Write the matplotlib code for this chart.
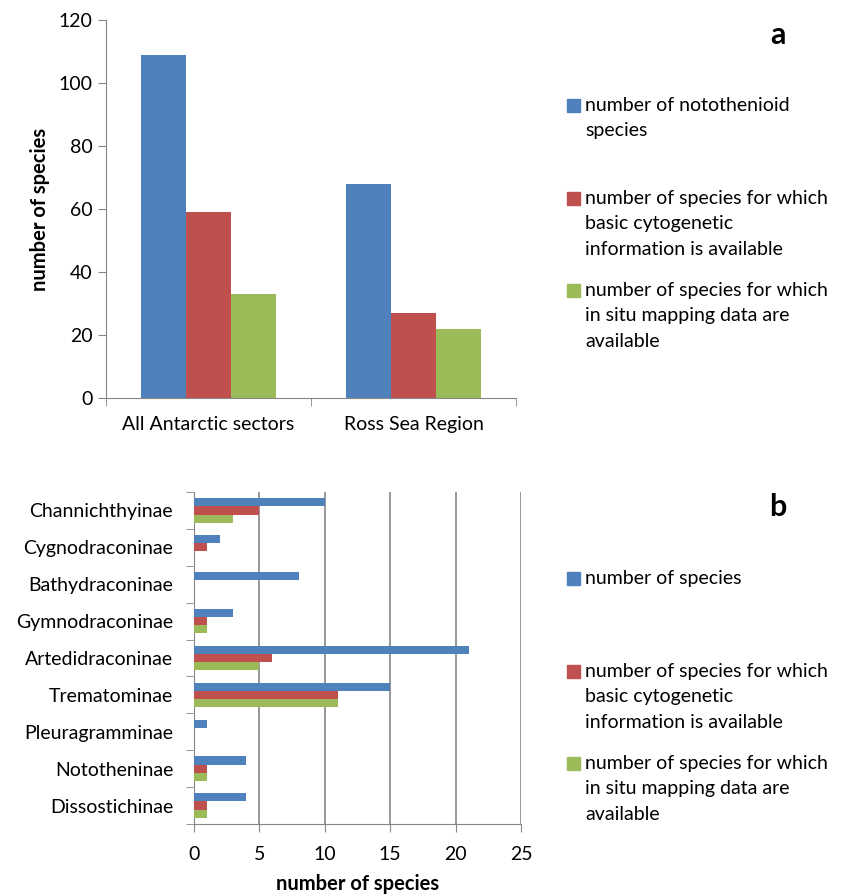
import matplotlib
matplotlib.use("Agg")
import numpy as np
import matplotlib.pyplot as plt
from matplotlib.patches import Rectangle

plt.rcParams['font.family'] = ['Lato', 'DejaVu Sans']

# panel a
regions = ["All Antarctic sectors", "Ross Sea Region"]
notothenioid = [109, 68]
cytogenetic_a = [59, 27]
insitu_a = [33, 22]

# panel b
subfamilies = ["Channichthyinae", "Cygnodraconinae", "Bathydraconinae", "Gymnodraconinae",
               "Artedidraconinae", "Trematominae", "Pleuragramminae", "Nototheninae",
               "Dissostichinae"]
species_b = [10, 2, 8, 3, 21, 15, 1, 4, 4]
cytogenetic_b = [5, 1, 0, 1, 6, 11, 0, 1, 1]
insitu_b = [3, 0, 0, 1, 5, 11, 0, 1, 1]

labels_a = ["number of notothenioid\nspecies",
            "number of species for which\nbasic cytogenetic\ninformation is available",
            "number of species for which\nin situ mapping data are\navailable"]
labels_b = ["number of species",
            "number of species for which\nbasic cytogenetic\ninformation is available",
            "number of species for which\nin situ mapping data are\navailable"]

colors = ["#4F81BD", "#C0504D", "#9BBB59"]
grey = "#868686"
fs = 14

fig = plt.figure(figsize=(8.49, 8.96), dpi=100)

# ---- panel a
ax1 = fig.add_axes([106/849, 1 - 398/896, 410/849, 378/896])
x = np.arange(len(regions))
w = 0.22
for i, vals in enumerate([notothenioid, cytogenetic_a, insitu_a]):
    ax1.bar(x + (i - 1) * w, vals, w, color=colors[i])
ax1.set_xlim(-0.5, 1.5)
ax1.set_ylim(0, 120)
ax1.set_yticks(range(0, 121, 20))
ax1.set_xticks(x)
ax1.set_xticklabels(regions, fontsize=fs)
ax1.set_xticks([-0.5, 0.5, 1.5], minor=True)
ax1.tick_params(axis='x', which='major', length=0, pad=13)
ax1.tick_params(axis='x', which='minor', length=6, color=grey, direction='out')
ax1.tick_params(axis='y', labelsize=fs, length=6, color=grey, direction='out')
ax1.set_ylabel("number of species", fontsize=14.5, fontweight='bold', labelpad=6)
for s in ['top', 'right']:
    ax1.spines[s].set_visible(False)
for s in ['left', 'bottom']:
    ax1.spines[s].set_color(grey)

# ---- panel b
ax2 = fig.add_axes([194/849, 1 - 824/896, 327/849, 332/896])
y = np.arange(len(subfamilies))
h = 0.22
for i, vals in enumerate([species_b, cytogenetic_b, insitu_b]):
    ax2.barh(y + (i - 1) * h, vals, h, color=colors[i], zorder=3)
ax2.set_ylim(len(subfamilies) - 0.5, -0.5)
ax2.set_xlim(0, 25)
ax2.set_xticks(range(0, 26, 5))
ax2.set_yticks(y)
ax2.set_yticklabels(subfamilies, fontsize=fs)
ax2.set_yticks(np.arange(-0.5, len(subfamilies)), minor=True)
ax2.tick_params(axis='y', which='major', length=0, pad=15)
ax2.tick_params(axis='y', which='minor', length=6, color=grey, direction='out')
ax2.tick_params(axis='x', labelsize=fs, length=6, color=grey, direction='out', pad=10)
ax2.grid(axis='x', color=grey, linewidth=1.2, zorder=0)
ax2.set_xlabel("number of species", fontsize=14.5, fontweight='bold', labelpad=8)
for s in ['top', 'right']:
    ax2.spines[s].set_visible(False)
for s in ['left', 'bottom']:
    ax2.spines[s].set_color(grey)

# ---- legends (Excel style, square beside first line)
def draw_legend(labels, ys):
    for lab, yy, c in zip(labels, ys, colors):
        fig.patches.append(Rectangle((567/849, 1 - (yy + 7)/896), 13/849, 13/896,
                                     transform=fig.transFigure, color=c))
        fig.text(585/849, 1 - (yy - 8)/896, lab, fontsize=fs, va='top', ha='left',
                 linespacing=1.6)

draw_legend(labels_a, [105, 198, 290])
draw_legend(labels_b, [578, 671, 763])

fig.text(778/849, 1 - 35/896, "a", fontsize=22, fontweight='bold', ha='center', va='center')
fig.text(778/849, 1 - 507/896, "b", fontsize=22, fontweight='bold', ha='center', va='center')

fig.savefig("out.png", dpi=100)
